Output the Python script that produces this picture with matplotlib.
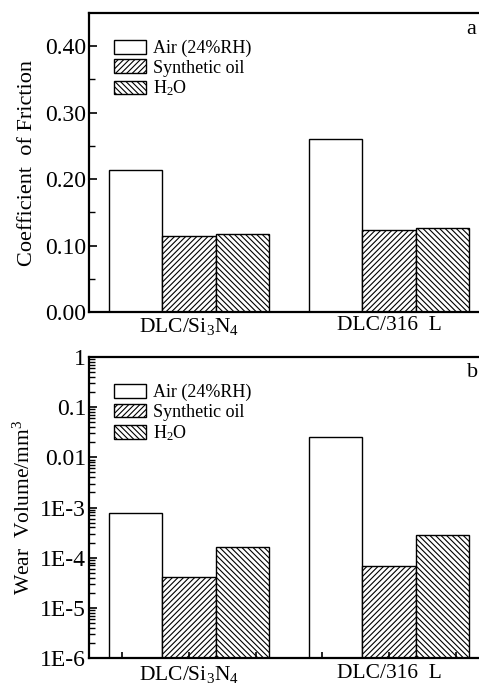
import numpy as np
import matplotlib
matplotlib.use("Agg")
import matplotlib.pyplot as plt
from matplotlib.ticker import FixedLocator, LogLocator, NullFormatter

plt.rcParams['font.family'] = ['Liberation Serif', 'DejaVu Serif']
plt.rcParams['mathtext.fontset'] = 'custom'
plt.rcParams['mathtext.rm'] = 'Liberation Serif'
plt.rcParams['mathtext.it'] = 'Liberation Serif'
plt.rcParams['hatch.linewidth'] = 0.8

# data
pairs = ['DLC/Si$_3$N$_4$', 'DLC/316  L']
conditions = ['Air (24%RH)', 'Synthetic oil', 'H$_2$O']
cof = [[0.213, 0.260],      # air
       [0.114, 0.124],      # synthetic oil
       [0.118, 0.126]]      # water
wear = [[7.8e-4, 2.6e-2],
        [4.2e-5, 6.9e-5],
        [1.6e-4, 2.8e-4]]
wear_labels = ['1E-6', '1E-5', '1E-4', '1E-3', '0.01', '0.1', '1']

hatches = ['', '//////', '\\\\\\\\\\\\']
x = np.arange(len(pairs))
w = 0.2667

fig = plt.figure(figsize=(4.79, 6.84), dpi=100)
ax1 = fig.add_axes([89/479, 1 - 312/684, 400/479, 299/684])
ax2 = fig.add_axes([89/479, 1 - 658/684, 400/479, 301/684])

for ax, vals in [(ax1, cof), (ax2, wear)]:
    for i in range(3):
        ax.bar(x + (i - 1) * w, vals[i], w, facecolor='white', edgecolor='black',
               hatch=hatches[i], linewidth=1.0, label=conditions[i])
    ax.set_xlim(-0.5, 1.5)
    ax.set_xticks(x)
    ax.set_xticklabels(pairs, fontsize=15.5)
    for s in ax.spines.values():
        s.set_linewidth(1.6)
    ax.tick_params(axis='y', direction='in', labelsize=17, width=1.2, length=6, pad=2)
    ax.tick_params(axis='y', which='minor', direction='in', width=1.0, length=4)
    ax.legend(loc='upper left', bbox_to_anchor=(0.062, 0.91), frameon=False,
              fontsize=13, handlelength=1.8, handleheight=0.8,
              labelspacing=0.12, handletextpad=0.35, borderpad=0.0,
              borderaxespad=0.0)

# top panel
ax1.set_ylim(0, 0.45)
ax1.set_yticks([0.0, 0.1, 0.2, 0.3, 0.4])
ax1.set_yticklabels(['0.00', '0.10', '0.20', '0.30', '0.40'])
ax1.yaxis.set_minor_locator(FixedLocator([0.05, 0.15, 0.25, 0.35]))
ax1.tick_params(axis='x', length=0, pad=3)
ax1.set_ylabel('Coefficient  of Friction', fontsize=16, labelpad=6)
ax1.text(0.955, 0.945, 'a', transform=ax1.transAxes, fontsize=16, ha='center', va='center')

# bottom panel
ax2.set_yscale('log')
ax2.set_ylim(1e-6, 1)
ax2.set_yticks([1e-6, 1e-5, 1e-4, 1e-3, 1e-2, 1e-1, 1])
ax2.set_yticklabels(wear_labels)
ax2.yaxis.set_minor_locator(LogLocator(base=10, subs=np.arange(2, 10)))
ax2.yaxis.set_minor_formatter(NullFormatter())
ax2.set_xticks([-1/3, 1/3, 2/3, 4/3], minor=True)
ax2.tick_params(axis='x', which='both', direction='in', length=4, width=1.2, pad=4)
ax2.set_ylabel('Wear  Volume/mm$^3$', fontsize=15.5, labelpad=4)
fig.text(478/479, 1 - 373/684, 'b', fontsize=16, ha='right', va='center')

fig.savefig('out.png', dpi=100)
